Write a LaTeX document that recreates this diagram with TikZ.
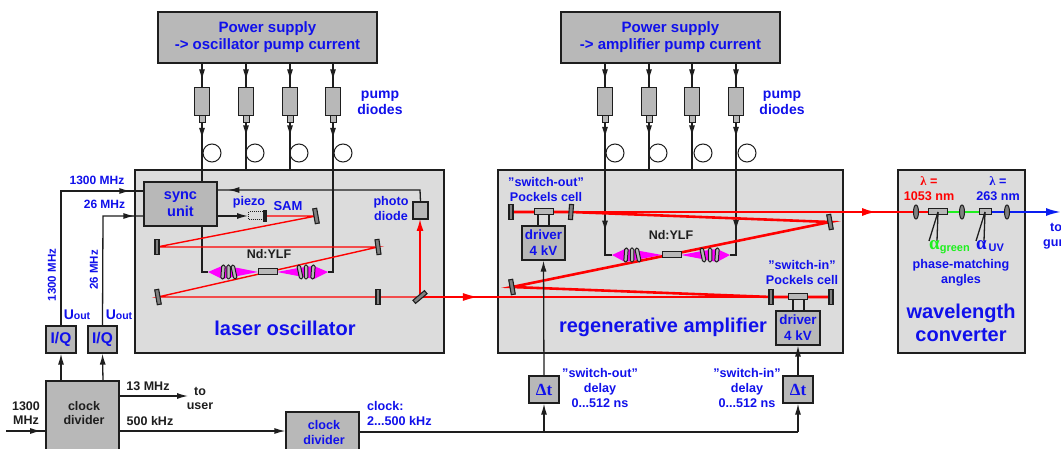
\documentclass[tikz,border=0pt]{standalone}
\usepackage{fontspec}
\setmainfont{Liberation Sans}[Ligatures=ResetAll]
\newfontfamily\symfont{Liberation Serif}
\usetikzlibrary{arrows.meta,decorations.markings,shapes.geometric}

\definecolor{labelblue}{RGB}{16,16,235}
\definecolor{boxgrey}{RGB}{184,184,184}
\definecolor{panelgrey}{RGB}{220,220,220}
\definecolor{linegrey}{RGB}{30,30,30}
\definecolor{pumppink}{RGB}{255,0,255}
\definecolor{beamred}{RGB}{255,0,0}
\definecolor{beamgreen}{RGB}{30,240,30}
\definecolor{beamblue}{RGB}{10,30,240}

\tikzset{
  panel/.style={draw=linegrey, line width=1.2pt, fill=panelgrey, inner sep=0pt},
  unit/.style={draw=linegrey, line width=1.2pt, fill=boxgrey, inner sep=0pt, font=\fontsize{13.4}{16}\selectfont\bfseries, text=labelblue, align=center},
  psu/.style={unit, font=\fontsize{15}{17}\selectfont\bfseries, minimum width=219pt, minimum height=51pt},
  diode/.style={draw=linegrey, line width=1pt, fill=boxgrey, inner sep=0pt, minimum width=15pt, minimum height=28pt},
  stub/.style={draw=linegrey, line width=1pt, fill=boxgrey, inner sep=0pt, minimum width=6pt, minimum height=7pt},
  loopring/.style={draw=linegrey, line width=1pt, circle, minimum size=18pt, inner sep=0pt},
  crystal/.style={draw=linegrey, line width=1pt, fill=boxgrey, inner sep=0pt, minimum width=19pt, minimum height=6pt},
  mirror/.style={draw=linegrey, line width=1.1pt, fill=boxgrey!70!black, inner sep=0pt, minimum width=4pt, minimum height=15pt},
  lens/.style={draw=linegrey, line width=1pt, fill=boxgrey, rounded corners=1.5pt, inner sep=0pt, minimum width=3.5pt, minimum height=14pt},
  plate/.style={draw=linegrey, line width=1pt, fill=boxgrey!70!black, ellipse, inner sep=0pt, minimum width=5pt, minimum height=14pt},
  wire/.style={draw=linegrey, line width=1.3pt},
  tip/.style={-{Latex[length=11pt,width=6pt]}},
  beam/.style={draw=beamred, line width=1.4pt},
  thickbeam/.style={draw=beamred, line width=2.6pt},
  midtip/.style={postaction={decorate, decoration={markings, mark=at position #1 with {\arrow{Latex[length=11pt,width=6pt]}}}}},
  midred/.style={postaction={decorate, decoration={markings, mark=at position #1 with {\arrow[beamred]{Latex[length=15pt,width=8pt]}}}}},
  txt/.style={font=\fontsize{12.6}{15}\selectfont\bfseries, text=labelblue, align=center, inner sep=0pt},
  lowtxt/.style={font=\fontsize{12}{14}\selectfont\bfseries, text=labelblue, align=center, inner sep=0pt},
  pumptxt/.style={font=\fontsize{14}{16}\selectfont\bfseries, text=labelblue, align=center, inner sep=0pt},
  blk/.style={font=\fontsize{12.5}{14}\selectfont\bfseries, text=linegrey, align=center, inner sep=0pt},
  big/.style={font=\fontsize{20}{23}\selectfont\bfseries, text=labelblue, align=center, inner sep=0pt}
}

\begin{document}
\begin{tikzpicture}[x=1pt,y=-1pt]

\clip (0,0) rectangle (1061,449);
\fill[white] (0,0) rectangle (1061,449);

%panels
\node[panel, minimum width=309pt, minimum height=183pt] (osc) at (289.5,261.5) {};
\node[panel, minimum width=345pt, minimum height=183pt] (amp) at (670.5,261.5) {};
\node[panel, minimum width=127pt, minimum height=183pt] (conv) at (961.5,261.5) {};

%power supplies
\node[psu] (psosc) at (267.5,37.5) {Power supply\\-> oscillator pump current};
\node[psu] (psamp) at (670.5,37.5) {Power supply\\-> amplifier pump current};

%pump diodes, oscillator
\node[diode] (da) at (202,102) {};
\node[diode] (db) at (246,102) {};
\node[diode] (dc) at (290,102) {};
\node[diode] (dd) at (333,102) {};
\node[stub] (sa) at (202,119.5) {};
\node[stub] (sb) at (246,119.5) {};
\node[stub] (sc) at (290,119.5) {};
\node[stub] (sd) at (333,119.5) {};
%
\draw[wire, midtip=0.7] (da |- psosc.south)--(da.north);
\draw[wire, midtip=0.7] (db |- psosc.south)--(db.north);
\draw[wire, midtip=0.7] (dc |- psosc.south)--(dc.north);
\draw[wire, midtip=0.7] (dd |- psosc.south)--(dd.north);
\draw[wire, midtip=0.28] (sb.south)--(sb |- osc.north);
\draw[wire, midtip=0.28] (sc.south)--(sc |- osc.north);

%pump diodes, amplifier
\node[diode] (de) at (605,102) {};
\node[diode] (df) at (649,102) {};
\node[diode] (dg) at (692,102) {};
\node[diode] (dh) at (736,102) {};
\node[stub] (se) at (605,119.5) {};
\node[stub] (sf) at (649,119.5) {};
\node[stub] (sg) at (692,119.5) {};
\node[stub] (sh) at (736,119.5) {};
%
\draw[wire, midtip=0.7] (de |- psamp.south)--(de.north);
\draw[wire, midtip=0.7] (df |- psamp.south)--(df.north);
\draw[wire, midtip=0.7] (dg |- psamp.south)--(dg.north);
\draw[wire, midtip=0.7] (dh |- psamp.south)--(dh.north);
\draw[wire, midtip=0.28] (sf.south)--(sf |- amp.north);
\draw[wire, midtip=0.28] (sg.south)--(sg |- amp.north);

%fibre loops
\node[loopring] (la) at (212,153) {};
\node[loopring] (lb) at (255,153) {};
\node[loopring] (lc) at (299,153) {};
\node[loopring] (ld) at (343,153) {};
\node[loopring] (le) at (615,153) {};
\node[loopring] (lf) at (658,153) {};
\node[loopring] (lg) at (703,153) {};
\node[loopring] (lh) at (747,153) {};

%oscillator cavity points
\coordinate (sam) at (266,216);
\coordinate (mA) at (316,216);
\coordinate (mB) at (157,247);
\coordinate (mC) at (378,247);
\coordinate (mD) at (158,297);
\coordinate (mE) at (378,297);
\coordinate (split) at (420,297);
\coordinate (tipL) at (208,272);
\coordinate (tipR) at (328,272);

%amplifier cavity points
\coordinate (qA) at (511,212);
\coordinate (qB) at (571,212);
\coordinate (qC) at (830,222);
\coordinate (qD) at (512,287);
\coordinate (qE) at (771,297);
\coordinate (qF) at (831,297);
\coordinate (tipM) at (612,255);
\coordinate (tipN) at (730,255);

%fibres into the heads
\draw[wire, midtip=0.1] (sa.south)--(tipL -| sa)--(tipL);
\draw[wire, midtip=0.1] (sd.south)--(tipR -| sd)--(tipR);
\draw[wire, midtip=0.78] (se.south)--(tipM -| se)--(tipM);
\draw[wire, midtip=0.78] (sh.south)--(tipN -| sh)--(tipN);
\draw[wire, midtip=0.11] (se.south)--(tipM -| se);
\draw[wire, midtip=0.11] (sh.south)--(tipN -| sh);

%pump light
\fill[pumppink] (tipL)--(222,266)--(238,268)--(258,272)--(238,276)--(222,279)--cycle;
\fill[pumppink] (tipR)--(314,266)--(298,268)--(277,272)--(298,276)--(314,279)--cycle;
\fill[pumppink] (tipM)--(625,249)--(640,251)--(662,255)--(640,259)--(625,262)--cycle;
\fill[pumppink] (tipN)--(717,249)--(702,251)--(681,255)--(702,259)--(717,262)--cycle;

%red beam, oscillator
\draw[beam] (sam)--(mA)--(mB)--(mC)--(mD)--(split);
\draw[beam, -{Latex[length=12pt,width=7pt]}] (split)--(420,219);
\draw[beam, midred=0.165] (split)--(qE);

%red beam, amplifier
\draw[thickbeam] (qF)--(qE)--(qD)--(qC)--(qB)--(qA);
\draw[thickbeam, midred=0.904] (qA)--(916,212);

%converter beam
\draw[beam, line width=2pt] (916,212)--(938,212);
\draw[line width=2pt, beamgreen] (938,212)--(985,212);
\draw[line width=2pt, beamblue, -{Latex[length=15pt,width=8pt]}] (985,212)--(1061,212);

%oscillator optics
\node[crystal] (yag) at (267.5,272) {};
\node[lens, rotate=-4] at (223,272) {};
\node[lens] at (228.5,272) {};
\node[lens, rotate=12] at (234,272) {};
\node[lens, rotate=12] at (300,272) {};
\node[lens] at (306,272) {};
\node[lens, rotate=-4] at (313,272) {};
\node[mirror, rotate=10] (mirA) at (mA) {};
\node[mirror, rotate=0] (mirB) at (mB) {};
\node[mirror, rotate=8] (mirC) at (mC) {};
\node[mirror, rotate=10] (mirD) at (mD) {};
\node[mirror] (mirE) at (mE) {};
\node[mirror, rotate=-50] (mirS) at (split) {};
\node[draw=linegrey, line width=1pt, densely dotted, inner sep=0pt, minimum width=15pt, minimum height=8pt] (piezo) at (256,216) {};
\node[fill=linegrey, inner sep=0pt, minimum width=4pt, minimum height=12pt] (samb) at (265,216) {};
\node[draw=linegrey, line width=1.2pt, fill=boxgrey, inner sep=0pt, minimum width=15pt, minimum height=17pt] (pd) at (420.5,210.5) {};

%amplifier optics
\node[crystal] (yagB) at (671.5,255) {};
\node[lens, rotate=-4] at (626,255) {};
\node[lens] at (632,255) {};
\node[lens, rotate=12] at (638,255) {};
\node[lens, rotate=12] at (703,255) {};
\node[lens] at (710,255) {};
\node[lens, rotate=-4] at (717,255) {};
\node[mirror] (mirF) at (qA) {};
\node[mirror, rotate=-4] (mirG) at (qB) {};
\node[mirror, rotate=10] (mirH) at (qC) {};
\node[mirror, rotate=10] (mirI) at (qD) {};
\node[mirror] (mirJ) at (qE) {};
\node[mirror] (mirK) at (qF) {};
%Pockels cells
\node[crystal] (pcA) at (543.5,212) {};
\node[crystal] (pcB) at (798,297) {};
\node[unit, minimum width=43pt, minimum height=34pt] (drvA) at (543.5,243) {driver\\4 kV};
\node[unit, minimum width=44pt, minimum height=34pt] (drvB) at (798,328) {driver\\4 kV};
\draw[wire] (538,215)--(538,226);
\draw[wire] (549,215)--(549,226);
\draw[wire] (793,300)--(793,311);
\draw[wire] (804,300)--(804,311);

%converter optics
\node[plate] (plA) at (916,212) {};
\node[plate] (plB) at (962,212) {};
\node[plate] (plC) at (1007,212) {};
\node[crystal] (shg) at (938,212) {};
\node[crystal, minimum width=12pt] (fhg) at (985,212) {};
\draw[wire] (shg.center)--(929,241);
\draw[wire] (shg.center)--(937,241);
\draw[wire] (fhg.center)--(976,241);
\draw[wire] (fhg.center)--(984,241);

%electronics
\node[unit, font=\fontsize{14.5}{16.5}\selectfont\bfseries, minimum width=73pt, minimum height=44pt] (sync) at (180.5,204) {sync\\unit};
\node[unit, minimum width=30pt, minimum height=27pt, font=\fontsize{15.5}{17}\selectfont\bfseries] (iqA) at (61,339.5) {I/Q};
\node[unit, minimum width=29pt, minimum height=27pt, font=\fontsize{15.5}{17}\selectfont\bfseries] (iqB) at (102.5,339.5) {I/Q};
\node[unit, minimum width=73pt, minimum height=80pt] (cdA) at (82.5,421) {};
\node[unit, minimum width=73pt, minimum height=50pt] (cdB) at (322.5,437) {};
\node[unit, minimum width=30pt, minimum height=27pt, font=\fontsize{17}{19}\selectfont\bfseries\symfont] (dtA) at (544,389.5) {Δt};
\node[unit, minimum width=30pt, minimum height=27pt, font=\fontsize{17}{19}\selectfont\bfseries\symfont] (dtB) at (798,389.5) {Δt};

\coordinate (inA) at (6,431);
\coordinate (outA) at (188,396);
\coordinate (busA) at (544,432);
\coordinate (busB) at (798,432);

%wires
\draw[wire, midtip=0.94] (iqA.north)--(61,191)--(sync.west |- 61,191);
\draw[wire, midtip=0.94] (iqB.north)--(103,216)--(sync.west |- 103,216);
\draw[wire, tip] (iqA |- cdA.north)--(iqA.south);
\draw[wire, tip] (103,381)--(iqB.south);
\draw[wire, midtip=0.89] (inA)--(inA -| cdA.west);
\draw[wire, tip] (cdA.east |- outA)--(outA);
\draw[wire, tip] (cdA.east |- inA)--(inA -| cdB.west);
\draw[wire] (cdB.east |- busA)--(busB);
\draw[wire, tip] (busA)--(dtA.south);
\draw[wire, tip] (busB)--(dtB.south);
\draw[wire, tip] (dtA.north)--(drvA.south);
\draw[wire, tip] (dtB.north)--(drvB.south);
\draw[wire, midtip=0.95] (pd.north)--(420,190)--(sync.east |- 420,190);
\draw[wire, tip] (sync.east |- piezo)--(piezo.west);

%labels
\node[pumptxt] (lpa) at (380,103) {pump\\diodes};
\node[pumptxt] (lpb) at (782,103) {pump\\diodes};
\node[lowtxt] (lfa) at (97,180) {1300 MHz};
\node[lowtxt] (lfb) at (104.5,204) {26 MHz};
\node[txt, font=\fontsize{11.5}{14}\selectfont\bfseries, rotate=90] (lfc) at (52,275) {1300 MHz};
\node[txt, font=\fontsize{11.5}{14}\selectfont\bfseries, rotate=90] (lfd) at (94,270) {26 MHz};
\node[txt] (lua) at (77,315) {\fontsize{14}{16}\selectfont U\fontsize{10.5}{12}\selectfont out};
\node[txt] (lub) at (119,315) {\fontsize{14}{16}\selectfont U\fontsize{10.5}{12}\selectfont out};
\node[txt] (lpz) at (249,202) {piezo};
\node[txt, font=\fontsize{13}{15}\selectfont\bfseries] (lsm) at (288,206) {SAM};
\node[txt] (lph) at (391,208) {photo\\diode};
\node[blk] (lyl) at (269,254) {Nd:YLF};
\node[blk] (lym) at (671,235) {Nd:YLF};
\node[big] (los) at (285,328) {laser oscillator};
\node[big] (lam) at (663,327) {regenerative amplifier};
\node[big] (lwc) at (961,322.5) {wavelength\\converter};
\node[txt] (lso) at (546,189.5) {"switch-out"\\Pockels cell};
\node[txt] (lsi) at (802,272) {"switch-in"\\Pockels cell};
\node[txt] (ldo) at (600,388) {"switch-out"\\delay\\0...512 ns};
\node[txt] (ldi) at (747,388) {"switch-in"\\delay\\0...512 ns};
\node[blk] (lin) at (26,413) {1300\\MHz};
\node[blk] (lcd) at (84,413) {clock\\divider};
\node[txt] (lce) at (324,432) {clock\\divider};
\node[blk] (l13) at (148,386) {13 MHz};
\node[blk] (lus) at (200,398) {to\\user};
\node[blk] (l50) at (150,421) {500 kHz};
\node[txt, align=left, anchor=west] (lck) at (367,413) {clock:\\2...500 kHz};
\node[txt, text=beamred] (lwa) at (929,188.5) {{\symfont λ} =\\1053 nm};
\node[txt] (lwb) at (998,188.5) {{\symfont λ} =\\263 nm};
\node[txt, anchor=west, text=beamgreen] (lag) at (929,247) {{\fontsize{19}{20}\selectfont\symfont α}\raisebox{-2pt}{\fontsize{11}{12}\selectfont green}};
\node[txt, anchor=west] (lau) at (976,246) {{\fontsize{19}{20}\selectfont\symfont α}\raisebox{-2pt}{\fontsize{11}{12}\selectfont\,UV}};
\node[txt] (lpm) at (961,273) {phase-matching\\angles};
\node[txt, align=left, anchor=west] (lgu) at (1043,236) {\ \ to\\gun};

\end{tikzpicture}
\end{document}
